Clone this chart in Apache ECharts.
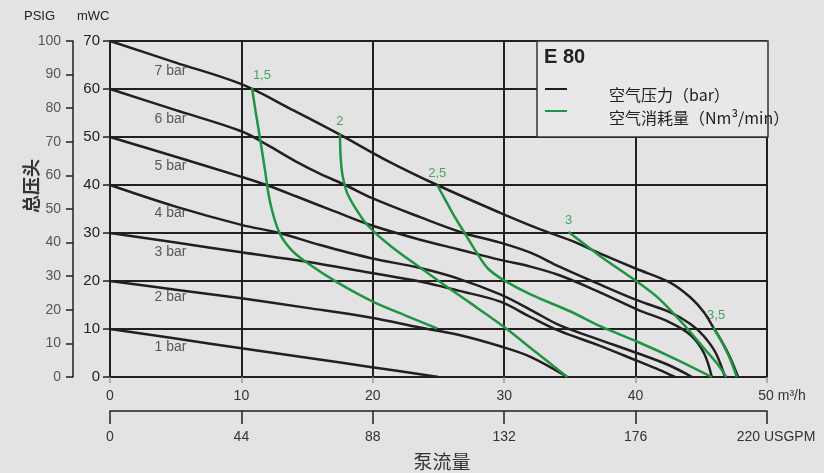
<!DOCTYPE html>
<html>
<head>
<meta charset="utf-8">
<script src="https://cdn.jsdelivr.net/npm/echarts@6/dist/echarts.min.js"></script>
<style>
  html, body { margin: 0; padding: 0; background: #e3e3e3; }
  #chart { width: 824px; height: 473px; }
</style>
</head>
<body>
<div id="chart"></div>
<script>
// pump curves, x = m3/h, y = mWC
const bar7 = [[0,70],[5,65.5],[10,61],[14,55.5],[17.5,50.5],[21,45.2],[24.9,40],[29.7,34.2],[32.7,30.8],[35,28.5],[37.5,25.5],[40,22.6],[42.6,19.7],[44.2,16.5],[45.2,13.5],[45.9,10.4],[46.6,7.2],[47.2,4],[47.8,0]];
const bar6 = [[0,60],[5,55.6],[10,51.2],[12,48.3],[14.2,44.8],[16,42.3],[17.9,40],[20,37.2],[23.6,33.3],[26.9,30],[29.7,28],[32,25.9],[34.2,23],[37,19.6],[40.1,16],[42.6,13.5],[44.2,11],[45.2,8.5],[46.1,5],[46.8,0]];
const bar5 = [[0,50],[5,45.9],[10,41.7],[11.9,40],[14.2,37.6],[17,34.6],[20,31.5],[23.6,28.6],[26.5,26.6],[29.7,24.4],[32,23],[34.2,21.2],[37,18],[40.1,14.1],[42.6,11.4],[44.2,8.7],[45.2,5],[45.8,0]];
const bar4 = [[0,40],[5,35.5],[10,31.7],[12.9,30],[16,27.5],[19.8,24.8],[23.6,22.7],[26.5,20.5],[29.7,17.2],[32,14],[34.2,10.8],[37,8],[40.1,5],[42.5,2.5],[44.3,0]];
const bar3 = [[0,30],[5,28],[10,26],[15,24],[19.8,21.7],[23.6,19.9],[26.5,18],[29.7,15.7],[32,12.5],[34.2,9.6],[37,6.8],[40.1,3.4],[41.8,1.5],[43,0]];
const bar2 = [[0,20],[5,18.2],[10,16.4],[15,14.4],[19.8,12.4],[23.6,10.3],[26.5,8.8],[29.7,6.4],[32,4.2],[34.8,0]];
const bar1 = [[0,10],[5,8],[10,6],[15,4],[19.8,2.1],[25,0]];

// air consumption curves (Nm3/min)
const air15 = [[10.8,60.3],[11.1,55],[11.4,50],[11.8,43],[12.2,36.2],[12.9,30],[13.8,26.5],[15,23.8],[17.3,19.7],[20,15.7],[22.5,12.8],[24.9,10.1]];
const air2 = [[17.5,50.7],[17.55,46],[17.7,42],[18.1,38],[19.2,33],[20,30.5],[21.5,27],[23.6,22.8],[25.8,18.5],[27.9,14.5],[30,10.4],[32.4,5.2],[34.8,0]];
const air25 = [[24.9,40],[25.5,37],[26.2,33.5],[26.9,30.4],[28,25.5],[28.8,22.5],[29.9,20.3],[32,17.2],[35,13.7],[37.3,10.6],[40.1,7.4],[43,3.8],[45.8,0]];
const air3 = [[34.9,30.2],[36.2,27.5],[37.5,24.8],[40.1,19.9],[41.5,17],[42.7,13.8],[43.9,10.2],[45.2,6],[46.2,2.8],[46.9,0]];
const air35 = [[45.9,10.4],[46.5,7.6],[47.1,4.3],[47.7,0]];

const barCurves = [bar7, bar6, bar5, bar4, bar3, bar2, bar1];
const airCurves = [air15, air2, air25, air3, air35];
const airNames = ['1,5', '2', '2,5', '3', '3,5'];
const barNames = ['7 bar', '6 bar', '5 bar', '4 bar', '3 bar', '2 bar', '1 bar'];
const barTagPos = [[4.6,63.8],[4.6,53.8],[4.6,43.9],[4.6,34.2],[4.6,26.1],[4.6,16.6],[4.6,6.2]];

const xTicksM3 = [0, 10, 20, 30, 40, 50];
const xTicksGpm = [0, 44, 88, 132, 176, 220];
const yTicksMwc = [0, 10, 20, 30, 40, 50, 60, 70];
const yTicksPsig = [0, 10, 20, 30, 40, 50, 60, 70, 80, 90, 100];

const BLACK = '#231f20';
const GREEN = '#1f9446';
const NARROW = '"Liberation Sans Narrow", "Liberation Sans", Arial, sans-serif';
const SANS = '"Liberation Sans", Arial, sans-serif';
const CJK = '"Noto Sans CJK SC", sans-serif';

const chart = echarts.init(document.getElementById('chart'));

const series = [];
barCurves.forEach((d, i) => {
  series.push({
    name: barNames[i], type: 'line', data: d, smooth: 0.35, showSymbol: false,
    lineStyle: { color: BLACK, width: 2.5 }, z: 3, silent: true
  });
});
airCurves.forEach((d, i) => {
  series.push({
    name: airNames[i], type: 'line', data: d, smooth: 0.35, showSymbol: false,
    lineStyle: { color: GREEN, width: 2.5 }, z: 4, silent: true
  });
});
series.push({
  type: 'scatter', symbolSize: 1, itemStyle: { color: 'transparent' }, silent: true,
  data: barTagPos.map((p, i) => ({ value: p, name: barNames[i] })),
  label: { show: true, position: 'inside', formatter: p => p.name, color: '#333', fontSize: 14, fontFamily: NARROW }
});
series.push({
  type: 'scatter', symbolSize: 1, itemStyle: { color: 'transparent' }, silent: true,
  data: airCurves.map((d, i) => ({
    value: d[0], name: airNames[i],
    label: { offset: i === 0 ? [10, 0] : (i === 4 ? [3, 0] : [0, 0]) }
  })),
  label: { show: true, position: 'top', distance: 5, formatter: p => p.name, color: GREEN, fontSize: 13, fontFamily: NARROW }
});

const option = {
  backgroundColor: '#e3e3e3',
  animation: false,
  grid: { left: 110, right: 57, top: 41, bottom: 96 },
  xAxis: [
    {
      type: 'value', min: 0, max: 50, interval: 10, position: 'bottom',
      axisLine: { show: true, lineStyle: { color: BLACK, width: 2 } },
      axisTick: { show: true, length: 6, lineStyle: { color: '#999', width: 1.5 }, customValues: xTicksM3 },
      axisLabel: {
        fontSize: 14, color: '#333', margin: 12, fontFamily: NARROW, customValues: xTicksM3,
        formatter: v => (v === 50 ? '{end|50 m³/h}' : v),
        rich: { end: { fontSize: 14, color: '#333', fontFamily: NARROW, padding: [0, 0, 0, 30] } }
      },
      splitLine: { show: true, lineStyle: { color: BLACK, width: 2 } }
    },
    {
      type: 'value', min: 0, max: 220, interval: 44, position: 'bottom', offset: 34,
      axisLine: { show: true, onZero: false, lineStyle: { color: BLACK, width: 1.5 } },
      axisTick: { show: true, length: 13, lineStyle: { color: BLACK, width: 1.5 }, customValues: xTicksGpm },
      axisLabel: {
        fontSize: 14, color: '#333', margin: 19, fontFamily: NARROW, customValues: xTicksGpm,
        formatter: v => (v === 220 ? '{end|220 USGPM}' : v),
        rich: { end: { fontSize: 14, color: '#333', fontFamily: NARROW, padding: [0, 0, 0, 18] } }
      },
      splitLine: { show: false }
    }
  ],
  yAxis: [
    {
      type: 'value', min: 0, max: 70, interval: 10, position: 'left',
      axisLine: { show: true, lineStyle: { color: BLACK, width: 2 } },
      axisTick: { show: true, length: 7, lineStyle: { color: BLACK, width: 1.5 }, customValues: yTicksMwc },
      axisLabel: { fontSize: 15, color: '#222', margin: 10, fontFamily: SANS, customValues: yTicksMwc },
      splitLine: { show: true, lineStyle: { color: BLACK, width: 2 } }
    },
    {
      type: 'value', min: 0, max: 100, interval: 10, position: 'left', offset: 37,
      axisLine: { show: true, onZero: false, lineStyle: { color: BLACK, width: 1.5 } },
      axisTick: { show: true, length: 7, lineStyle: { color: BLACK, width: 1.5 }, customValues: yTicksPsig },
      axisLabel: { fontSize: 14, color: '#555', margin: 12, fontFamily: SANS, customValues: yTicksPsig },
      splitLine: { show: false }
    }
  ],
  graphic: [
    { type: 'text', x: 24, y: 16, style: { text: 'PSIG', fontSize: 13, fill: '#222', fontFamily: SANS, verticalAlign: 'middle' } },
    { type: 'text', x: 77, y: 16, style: { text: 'mWC', fontSize: 13, fill: '#222', fontFamily: SANS, verticalAlign: 'middle' } },
    { type: 'text', x: 31, y: 186, rotation: Math.PI / 2,
      style: { text: '总压头', fontSize: 18, fontWeight: 'bold', fill: '#333', fontFamily: CJK, align: 'center', verticalAlign: 'middle' } },
    { type: 'text', x: 442, y: 462,
      style: { text: '泵流量', fontSize: 19, fill: '#333', fontFamily: CJK, align: 'center', verticalAlign: 'middle' } },
    { type: 'rect', z: 100, shape: { x: 537, y: 41, width: 231, height: 96 },
      style: { fill: '#e8e8e8', stroke: '#333', lineWidth: 1.5 } },
    { type: 'text', z: 101, x: 544, y: 57,
      style: { text: 'E 80', fontSize: 20, fontWeight: 'bold', fill: '#222', fontFamily: SANS, verticalAlign: 'middle' } },
    { type: 'line', z: 101, shape: { x1: 545, y1: 89, x2: 567, y2: 89 }, style: { stroke: BLACK, lineWidth: 2 } },
    { type: 'line', z: 101, shape: { x1: 545, y1: 111, x2: 567, y2: 111 }, style: { stroke: GREEN, lineWidth: 2 } },
    { type: 'text', z: 101, x: 609, y: 95,
      style: { text: '空气压力（bar）', fontSize: 16, fill: '#222', fontFamily: CJK, verticalAlign: 'middle' } },
    { type: 'text', z: 101, x: 609, y: 118,
      style: { text: '空气消耗量（Nm³/min）', fontSize: 16, fill: '#222', fontFamily: CJK, verticalAlign: 'middle' } }
  ],
  series
};

chart.setOption(option);
</script>
</body>
</html>
